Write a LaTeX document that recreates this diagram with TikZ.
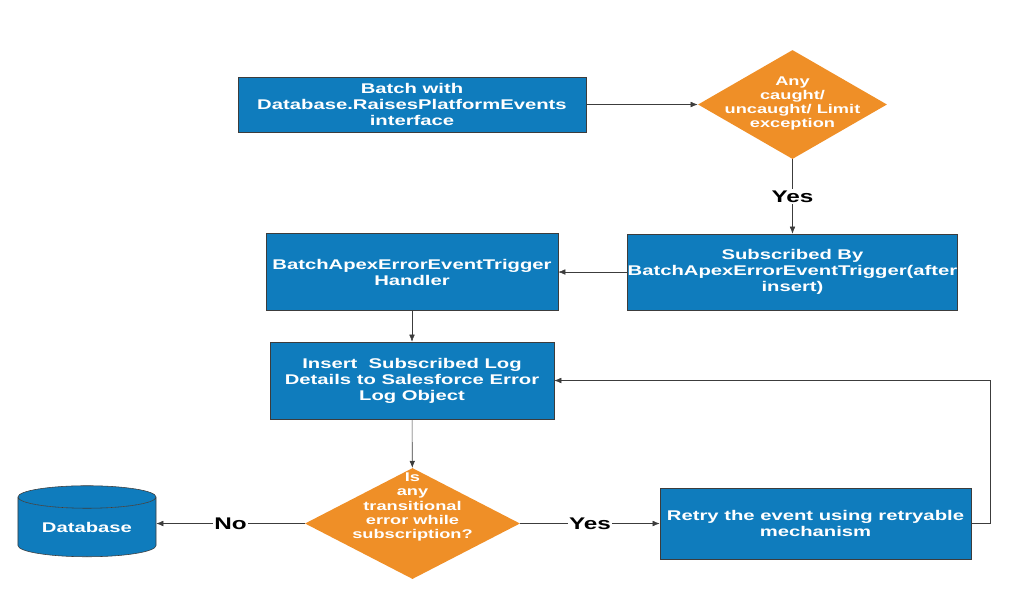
\documentclass[tikz,border=0pt]{standalone}
\usepackage{fontspec}
\setmainfont{Liberation Sans}[FakeStretch=1.44]
\usetikzlibrary{positioning,calc,shapes.geometric,arrows.meta}
\definecolor{theme}{RGB}{15,124,189}
\definecolor{decide}{RGB}{239,143,39}
\definecolor{edge}{RGB}{60,60,60}
\tikzset{
  process/.style={draw=edge, fill=theme, text=white, align=center, inner sep=0pt,
    font=\fontsize{10}{11.4}\selectfont\bfseries},
  decision/.style={diamond, fill=decide, inner sep=0pt},
  decisiontext/.style={text=white, align=center, inner sep=0pt,
    font=\fontsize{9}{10}\selectfont\bfseries},
  store/.style={cylinder, shape border rotate=90, aspect=0.25, draw=edge,
    cylinder uses custom fill, cylinder body fill=theme, cylinder end fill=theme,
    text=white, inner sep=0pt, minimum width=3.45cm, minimum height=1.775cm,
    font=\fontsize{10}{11.4}\selectfont\bfseries},
  flow/.style={draw=edge, -{Latex[length=5pt,width=4pt]}},
  answer/.style={fill=white, inner sep=1pt, font=\fontsize{12}{14}\selectfont\bfseries}
}
\begin{document}
\begin{tikzpicture}[x=0.025cm, y=-0.025cm]
    \useasboundingbox (0,0) rectangle (1009,595);
    \node[process, minimum width=8.7cm, minimum height=1.375cm] (batch) at (412,104.5) {Batch with\\Database.RaisesPlatformEvents\\interface};
    \node[decision, minimum width=4.725cm, minimum height=2.725cm] (anyexc) at (792.5,104.5) {};
    \node[decisiontext] (anyexctext) at (792.5,103.5) {Any\\caught/\\uncaught/ Limit\\exception};

    \node[process, minimum width=8.225cm, minimum height=1.9cm] (subscribed) at (792.5,272) {Subscribed By\\BatchApexErrorEventTrigger(after\\insert)};
    \node[process, minimum width=7.3cm, minimum height=1.925cm] (handler) at (412,272) {BatchApexErrorEventTrigger\\Handler};
    \node[process, minimum width=7.1cm, minimum height=1.925cm] (insert) at (412,380.5) {Insert\ \ Subscribed Log\\Details to Salesforce Error\\Log Object};

    \node[decision, minimum width=5.375cm, minimum height=2.775cm] (transient) at (412.5,523.5) {};
    \node[decisiontext] (transienttext) at (412.5,507) {Is\\any\\transitional\\error while\\subscription?};
    \node[store] (db) at (87,527) {Database};
    \node[process, minimum width=7.775cm, minimum height=1.775cm] (retry) at (815.5,523.5) {Retry the event using retryable\\mechanism};
    \coordinate (loop) at (990,380.5);

    \draw[flow] (batch) -- (anyexc);
    \draw[flow] (anyexc) -- node[answer] (yesone) {Yes} (subscribed);
    \draw[flow] (subscribed) -- (handler);
    \draw[flow] (handler) -- (insert);
    \draw[flow] (insert) -- (transient);
    \draw[flow] (transient.west) -- node[answer] (no) {No} (transient.west -| db.east);
    \draw[flow] (transient) -- node[answer] (yestwo) {Yes} (retry);
    \draw[flow] (retry.east) -| (loop) -- (insert.east);
  \end{tikzpicture}
\end{document}
